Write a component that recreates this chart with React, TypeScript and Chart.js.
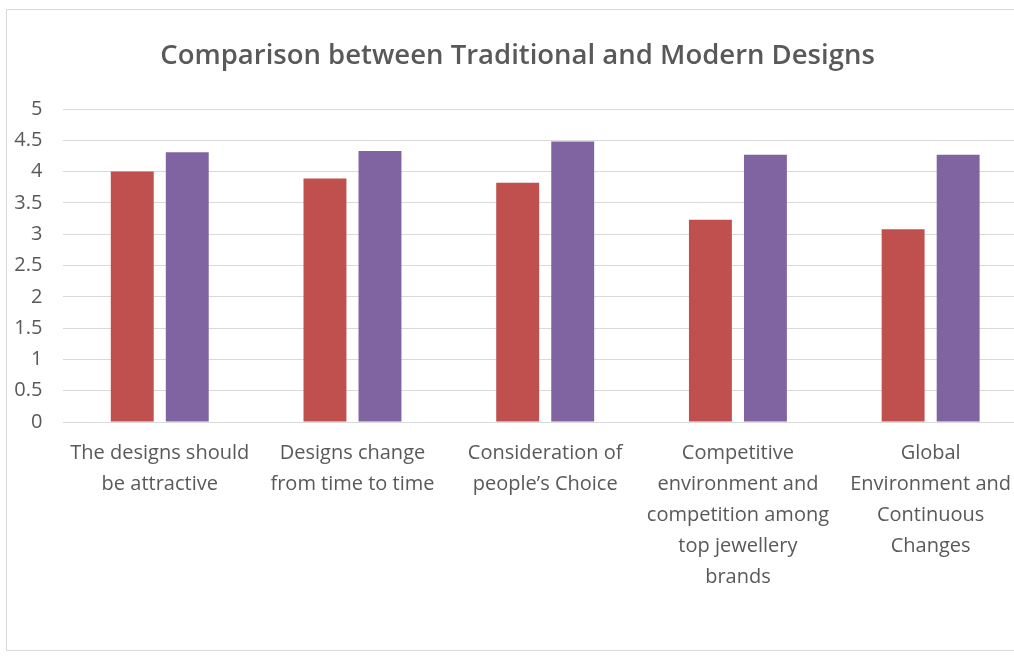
import React, { useEffect, useRef } from "react";
import { Chart, registerables } from "chart.js";

Chart.register(...registerables);

const title = "Comparison between Traditional and Modern Designs";
const categories: string[][] = [
  ["The designs should", "be attractive"],
  ["Designs change", "from time to time"],
  ["Consideration of", "people\u2019s Choice"],
  ["Competitive", "environment and", "competition among", "top jewellery", "brands"],
  ["Global", "Environment and", "Continuous", "Changes"],
];
const traditional: number[] = [4.0, 3.89, 3.82, 3.23, 3.08];
const modern: number[] = [4.31, 4.33, 4.48, 4.27, 4.27];
const seriesNames: string[] = ["Traditional", "Modern"];

const FONT = "'Open Sans', 'DejaVu Sans', sans-serif";
const TEXT = "#595959";

export default function App() {
  const ref = useRef<HTMLCanvasElement | null>(null);

  useEffect(() => {
    if (!ref.current) return;
    const chart = new Chart(ref.current, {
      type: "bar",
      data: {
        labels: categories,
        datasets: [
          {
            label: seriesNames[0],
            data: traditional,
            backgroundColor: "#C0504D",
            categoryPercentage: 0.571,
            barPercentage: 0.78,
          },
          {
            label: seriesNames[1],
            data: modern,
            backgroundColor: "#8064A2",
            categoryPercentage: 0.571,
            barPercentage: 0.78,
          },
        ],
      },
      options: {
        responsive: false,
        animation: false,
        layout: { padding: { left: 0, right: 21, top: 0, bottom: 49 } },
        plugins: {
          legend: { display: false },
          tooltip: { enabled: false },
          title: {
            display: true,
            text: title,
            color: TEXT,
            font: { family: FONT, size: 27.5, weight: "600" as any, lineHeight: 1.2 },
            padding: { top: 29.5, bottom: 36.5 },
          },
        },
        scales: {
          x: {
            grid: { display: false },
            border: { display: false },
            ticks: {
              color: TEXT,
              font: { family: FONT, size: 20, lineHeight: 1.55 },
              padding: 8,
              maxRotation: 0,
              autoSkip: false,
            },
          },
          y: {
            min: 0,
            max: 5,
            border: { display: false },
            grid: { color: "#d9d9d9", lineWidth: 1, drawTicks: false },
            afterFit: (scale: any) => {
              scale.width = 55.4;
            },
            ticks: {
              stepSize: 0.5,
              color: TEXT,
              font: { family: FONT, size: 20 },
              padding: 21,
              callback: (v: any) => String(Number(v)),
            },
          },
        },
      },
    });
    return () => chart.destroy();
  }, []);

  return (
    <div
      style={{
        position: "absolute",
        left: 0,
        top: 0,
        width: 1014,
        height: 661,
        overflow: "hidden",
        background: "#ffffff",
      }}
    >
      <div
        style={{
          position: "absolute",
          left: 6,
          top: 9,
          width: 1060,
          height: 642,
          border: "1px solid #d9d9d9",
          boxSizing: "border-box",
        }}
      />
      <canvas
        ref={ref}
        width={1040}
        height={640}
        style={{ position: "absolute", left: 8, top: 10, display: "block" }}
      />
    </div>
  );
}
